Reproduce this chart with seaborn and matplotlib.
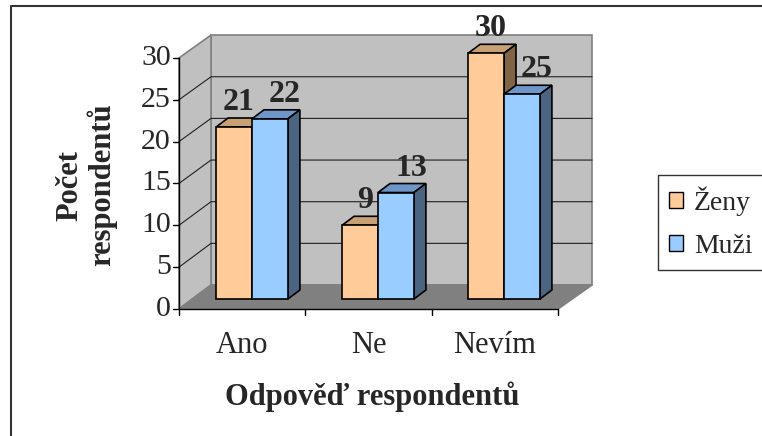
import numpy as np
import pandas as pd
import matplotlib
matplotlib.use("Agg")
import matplotlib.pyplot as plt
from matplotlib.patches import Polygon, Patch
from matplotlib.lines import Line2D
import seaborn as sns

# --- data ---
categories = ["Ano", "Ne", "Nevím"]
zeny = [21, 9, 30]
muzi = [22, 13, 25]
series = ["Ženy", "Muži"]
y_ticks = [0, 5, 10, 15, 20, 25, 30]

front_colors = {"Ženy": "#FFCC99", "Muži": "#99CCFF"}
top_colors = {"Ženy": "#C8A073", "Muži": "#6E96C8"}
side_colors = {"Ženy": "#806446", "Muži": "#4B6482"}

df = pd.DataFrame({
    "odpoved": categories * 2,
    "pocet": zeny + muzi,
    "pohlavi": [series[0]] * 3 + [series[1]] * 3,
})

sns.set_style("white")
plt.rcParams["font.family"] = ["Liberation Serif", "DejaVu Serif"]

W, H = 762, 436
fig = plt.figure(figsize=(W / 100, H / 100), dpi=100)
ax = fig.add_axes([0, 0, 1, 1])

# pixel layout of the pseudo-3D frame
CX0, CSTEP = 252, 126      # category 0 centre / spacing (px)
BASE, SCALE = 299, 8.19    # bar plane baseline / px per unit


def P(px, py):
    """pixel -> data coords"""
    return ((px - CX0) / CSTEP, (BASE - py) / SCALE)


sns.barplot(data=df, x="odpoved", y="pocet", hue="pohlavi", order=categories,
            hue_order=series, palette=front_colors, saturation=1, width=0.57, gap=0,
            edgecolor="black", linewidth=1.2, legend=False, ax=ax, zorder=3)
bar_groups = [list(c) for c in ax.containers]

x0, y0 = P(0, H)
x1, y1 = P(W, 0)
ax.set_xlim(x0, x1)
ax.set_ylim(y0, y1)
ax.axis("off")

# frame geometry (px)
FX0, FX1, FY0 = 179, 558, 309      # front floor edge
BX0, BX1, BY0 = 211, 592, 285      # back floor edge
FS, BS = 8.37, 8.33                # px per unit on front / back plane
top_v = y_ticks[-1]


def poly(pts, **kw):
    ax.add_patch(Polygon([P(*p) for p in pts], closed=True, **kw))


wall = "#C0C0C0"
edge = "#808080"
poly([(BX0, BY0), (BX1, BY0), (BX1, BY0 - BS * top_v), (BX0, BY0 - BS * top_v)],
     facecolor=wall, edgecolor=edge, lw=1.2, zorder=1)
poly([(FX0, FY0), (BX0, BY0), (BX0, BY0 - BS * top_v), (FX0, FY0 - FS * top_v)],
     facecolor=wall, edgecolor=edge, lw=1.2, zorder=1)
poly([(FX0, FY0), (FX1, FY0), (BX1, BY0), (BX0, BY0)],
     facecolor="#808080", edgecolor=edge, lw=1.2, zorder=1.2)

# gridlines on back and left wall
for v in y_ticks[1:-1]:
    bx, by = P(BX0, BY0 - BS * v)
    ex, ey = P(BX1, BY0 - BS * v)
    fx, fy = P(FX0, FY0 - FS * v)
    ax.plot([fx, bx, ex], [fy, by, ey], color="#202020", lw=0.8, zorder=1.1)

# front axes lines
ax.plot(*zip(P(FX0, FY0), P(FX0, FY0 - FS * top_v)), color="black", lw=1.0, zorder=5)
ax.plot(*zip(P(FX0, FY0), P(FX1, FY0)), color="black", lw=1.0, zorder=5)
for v in y_ticks:
    py = FY0 - FS * v
    ax.plot(*zip(P(FX0 - 6, py), P(FX0, py)), color="black", lw=1.0, zorder=5)
    ax.text(*P(FX0 - 8, py), str(v), ha="right", va="center", fontsize=21.5)

step = (FX1 - FX0) / len(categories)
for i in range(len(categories) + 1):
    px = FX0 + i * step
    ax.plot(*zip(P(px, FY0), P(px, FY0 + 6)), color="black", lw=1.0, zorder=5)
for i, c in enumerate(categories):
    ax.text(*P(FX0 + (i + 0.5) * step, 345), c, ha="center", va="center", fontsize=22)

# 3D faces for bars
dx, dy = 12 / CSTEP, 9 / SCALE
for j, s in enumerate(series):
    z = 3 + j
    for p in bar_groups[j]:
        p.set_zorder(z + 0.5)
        xl, w, h = p.get_x(), p.get_width(), p.get_height()
        ax.add_patch(Polygon([(xl, h), (xl + w, h), (xl + w + dx, h + dy), (xl + dx, h + dy)],
                             facecolor=top_colors[s], edgecolor="black", lw=1.2, zorder=z))
        ax.add_patch(Polygon([(xl + w, 0), (xl + w + dx, dy), (xl + w + dx, h + dy), (xl + w, h)],
                             facecolor=side_colors[s], edgecolor="black", lw=1.2, zorder=z))
        ax.text(xl + w / 2 + (5 + 10 * j) / CSTEP, h + 17 / SCALE, f"{h:.0f}",
                ha="center", va="baseline", fontsize=23, fontweight="bold", zorder=6)

# axis titles
ax.text(*P(372, 397), "Odpověď respondentů", ha="center", va="center",
        fontsize=22, fontweight="bold")
ax.text(*P(86, 185), "Počet\nrespondentů", ha="center", va="center", rotation=90,
        fontsize=22, fontweight="bold", linespacing=1.1)

# legend
handles = [Patch(facecolor=front_colors[s], edgecolor="black", lw=1.0, label=s) for s in series]
leg = fig.legend(handles=handles, loc="upper left", bbox_to_anchor=(658 / W, 1 - 175 / H),
                 frameon=True, fancybox=False, edgecolor="black", fontsize=20,
                 handlelength=0.5, handleheight=0.5, handletextpad=0.4,
                 labelspacing=0.65, borderpad=0.4, borderaxespad=0)
leg.get_frame().set_linewidth(1.0)

# outer chart border (top and left only visible)
fig.add_artist(Line2D([11 / W, 11 / W, 1], [0, 1 - 6 / H, 1 - 6 / H],
                      transform=fig.transFigure, color="#333333", lw=1.5))

fig.savefig("out.png", dpi=100)
